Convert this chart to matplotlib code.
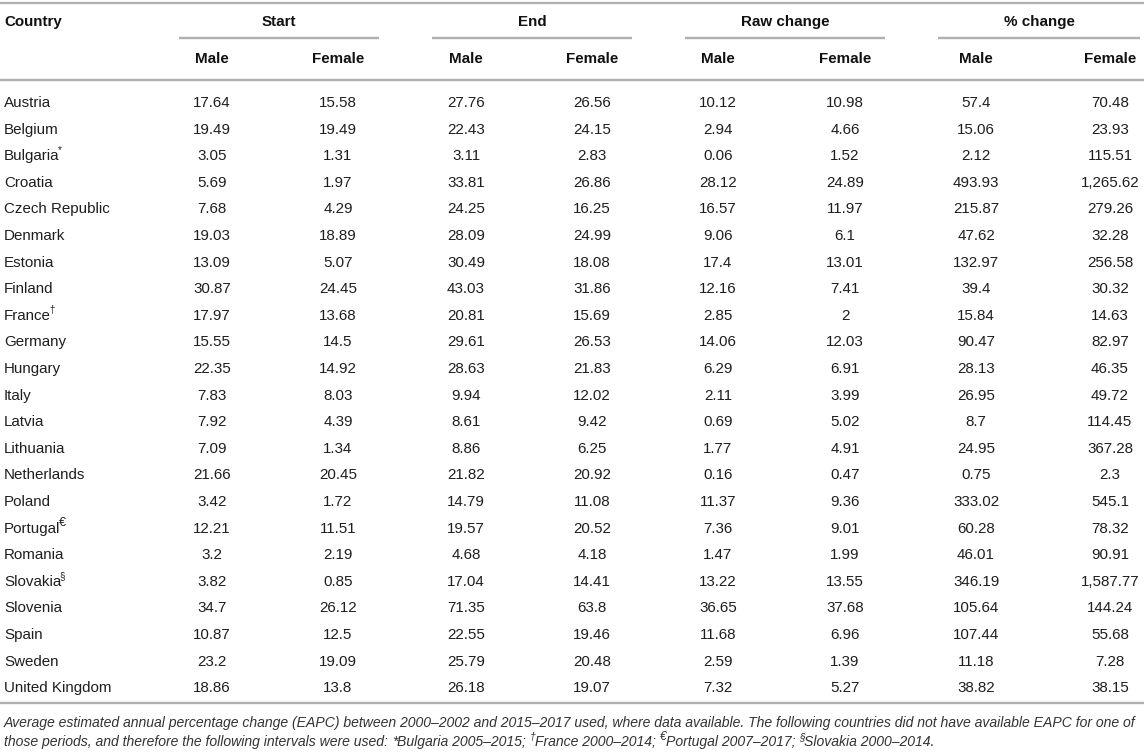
import matplotlib
matplotlib.use("Agg")
import matplotlib.pyplot as plt

# table data
countries = ["Austria", "Belgium", "Bulgaria", "Croatia", "Czech Republic", "Denmark",
             "Estonia", "Finland", "France", "Germany", "Hungary", "Italy", "Latvia",
             "Lithuania", "Netherlands", "Poland", "Portugal", "Romania", "Slovakia",
             "Slovenia", "Spain", "Sweden", "United Kingdom"]
marks = {"Bulgaria": "*", "France": "\u2020", "Portugal": "\u20ac", "Slovakia": "\u00a7"}

start_male = ["17.64", "19.49", "3.05", "5.69", "7.68", "19.03", "13.09", "30.87", "17.97",
              "15.55", "22.35", "7.83", "7.92", "7.09", "21.66", "3.42", "12.21", "3.2",
              "3.82", "34.7", "10.87", "23.2", "18.86"]
start_female = ["15.58", "19.49", "1.31", "1.97", "4.29", "18.89", "5.07", "24.45", "13.68",
                "14.5", "14.92", "8.03", "4.39", "1.34", "20.45", "1.72", "11.51", "2.19",
                "0.85", "26.12", "12.5", "19.09", "13.8"]
end_male = ["27.76", "22.43", "3.11", "33.81", "24.25", "28.09", "30.49", "43.03", "20.81",
            "29.61", "28.63", "9.94", "8.61", "8.86", "21.82", "14.79", "19.57", "4.68",
            "17.04", "71.35", "22.55", "25.79", "26.18"]
end_female = ["26.56", "24.15", "2.83", "26.86", "16.25", "24.99", "18.08", "31.86", "15.69",
              "26.53", "21.83", "12.02", "9.42", "6.25", "20.92", "11.08", "20.52", "4.18",
              "14.41", "63.8", "19.46", "20.48", "19.07"]
raw_male = ["10.12", "2.94", "0.06", "28.12", "16.57", "9.06", "17.4", "12.16", "2.85",
            "14.06", "6.29", "2.11", "0.69", "1.77", "0.16", "11.37", "7.36", "1.47",
            "13.22", "36.65", "11.68", "2.59", "7.32"]
raw_female = ["10.98", "4.66", "1.52", "24.89", "11.97", "6.1", "13.01", "7.41", "2",
              "12.03", "6.91", "3.99", "5.02", "4.91", "0.47", "9.36", "9.01", "1.99",
              "13.55", "37.68", "6.96", "1.39", "5.27"]
pct_male = ["57.4", "15.06", "2.12", "493.93", "215.87", "47.62", "132.97", "39.4", "15.84",
            "90.47", "28.13", "26.95", "8.7", "24.95", "0.75", "333.02", "60.28", "46.01",
            "346.19", "105.64", "107.44", "11.18", "38.82"]
pct_female = ["70.48", "23.93", "115.51", "1,265.62", "279.26", "32.28", "256.58", "30.32",
              "14.63", "82.97", "46.35", "49.72", "114.45", "367.28", "2.3", "545.1", "78.32",
              "90.91", "1,587.77", "144.24", "55.68", "7.28", "38.15"]

groups = ["Start", "End", "Raw change", "% change"]
columns = [start_male, start_female, end_male, end_female,
           raw_male, raw_female, pct_male, pct_female]

footnote1 = ("Average estimated annual percentage change (EAPC) between 2000\u20132002 and "
             "2015\u20132017 used, where data available. The following countries did not "
             "have available EAPC for one of")
footnote2 = [("those periods, and therefore the following intervals were used: ", False),
             ("*", False), ("Bulgaria 2005\u20132015; ", False),
             ("\u2020", True), ("France 2000\u20132014; ", False),
             ("\u20ac", True), ("Portugal 2007\u20132017; ", False),
             ("\u00a7", True), ("Slovakia 2000\u20132014.", False)]

# layout in pixels
W, H = 1144, 752
col_x = [212, 338, 466, 592, 718, 845, 976, 1110]
group_spans = [(179, 379), (432, 632), (685, 885), (938, 1140)]
row0, row_h = 103, 26.6

plt.rcParams['font.family'] = ['Liberation Sans', 'DejaVu Sans']
fig = plt.figure(figsize=(W / 100, H / 100), dpi=100)
ax = fig.add_axes([0, 0, 1, 1])
ax.set_xlim(0, W)
ax.set_ylim(H, 0)
ax.axis('off')

line_kw = dict(color='#b0b0b0', lw=1.7, solid_capstyle='butt')
body = dict(fontsize=10.9, color='#1e1e1e', va='center')
head = dict(fontsize=10.9, color='#111111', va='center', fontweight='bold')

# rules
ax.plot([0, W], [3, 3], **line_kw)
ax.plot([0, W], [80, 80], **line_kw)
ax.plot([0, W], [703, 703], **line_kw)
for (x0, x1) in group_spans:
    ax.plot([x0, x1], [38, 38], **line_kw)

# header
ax.text(4, 22, "Country", ha='left', **head)
for g, (x0, x1) in zip(groups, group_spans):
    ax.text((x0 + x1) / 2, 22, g, ha='center', **head)
for i, x in enumerate(col_x):
    ax.text(x, 59, "Male" if i % 2 == 0 else "Female", ha='center', **head)

fig.canvas.draw()
renderer = fig.canvas.get_renderer()
inv = ax.transData.inverted()

# body rows
for r, name in enumerate(countries):
    y = row0 + r * row_h
    t = ax.text(4, y, name, ha='left', **body)
    if name in marks:
        bb = t.get_window_extent(renderer)
        xe = inv.transform((bb.x1, 0))[0]
        big = marks[name] == "\u20ac"
        ax.text(xe - 1.5, y - 6, marks[name], ha='left', va='center',
                fontsize=9 if big else 7, color='#1e1e1e')
    for x, col in zip(col_x, columns):
        ax.text(x, y, col[r], ha='center', **body)

# footnotes
foot = dict(fontsize=10.1, color='#333333', style='italic', va='center')
ax.text(4, 723, footnote1, ha='left', **foot)
x = 4
for txt, sup in footnote2:
    if sup:
        t = ax.text(x, 742 - 5, txt, ha='left', va='center',
                    fontsize=8.5 if txt == "\u20ac" else 7.5,
                    color='#333333', style='italic')
    else:
        t = ax.text(x, 742, txt, ha='left', **foot)
    bb = t.get_window_extent(renderer)
    x = inv.transform((bb.x1, 0))[0] - (0.5 if sup else 0)

fig.savefig("out.png", dpi=100)
